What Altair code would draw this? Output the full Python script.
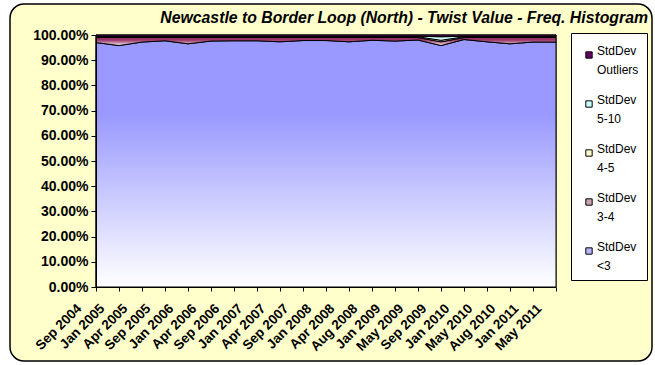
import altair as alt
import pandas as pd

months = ["Sep 2004", "Jan 2005", "Apr 2005", "Sep 2005", "Jan 2006", "Apr 2006",
          "Sep 2006", "Jan 2007", "Apr 2007", "Sep 2007", "Jan 2008", "Apr 2008",
          "Aug 2008", "Jan 2009", "May 2009", "Sep 2009", "Jan 2010", "May 2010",
          "Aug 2010", "Jan 2011", "May 2011"]

# percentages per month
lt3 = [97.0, 95.8, 97.2, 97.7, 96.5, 97.6, 97.7, 97.7, 97.3, 97.8, 97.8, 97.3,
       97.9, 97.6, 98.0, 95.8, 98.2, 97.3, 96.5, 97.2, 97.2]
s34 = [2.0, 3.2, 1.8, 1.3, 2.5, 1.4, 1.3, 1.3, 1.7, 1.2, 1.2, 1.7,
       1.1, 1.4, 1.0, 1.5, 0.8, 1.7, 2.5, 1.8, 1.8]
s45 = [0.3, 0.3, 0.3, 0.3, 0.3, 0.3, 0.3, 0.3, 0.3, 0.3, 0.3, 0.3,
       0.3, 0.3, 0.3, 0.6, 0.3, 0.3, 0.3, 0.3, 0.3]
s510 = [0.2, 0.2, 0.2, 0.2, 0.2, 0.2, 0.2, 0.2, 0.2, 0.2, 0.2, 0.2,
        0.2, 0.2, 0.2, 1.4, 0.2, 0.2, 0.2, 0.2, 0.2]
outl = [0.5, 0.5, 0.5, 0.5, 0.5, 0.5, 0.5, 0.5, 0.5, 0.5, 0.5, 0.5,
        0.5, 0.5, 0.5, 0.7, 0.5, 0.5, 0.5, 0.5, 0.5]

series_names = ["StdDev <3", "StdDev 3-4", "StdDev 4-5", "StdDev 5-10", "StdDev Outliers"]
series_vals = [lt3, s34, s45, s510, outl]
series_top = ["#9999FF", "#993366", "#FFFFCC", "#CCFFFF", "#660066"]
series_bottom = ["#FFFFFF", "#F4E8EE", "#FFFFFF", "#F0FFFF", "#660066"]
legend_order = ["StdDev Outliers", "StdDev 5-10", "StdDev 4-5", "StdDev 3-4", "StdDev <3"]
legend_colors = ["#660066", "#CCFFFF", "#FFFFCC", "#C9A3B4", "#B8B8FF"]
title_text = ["Newcastle to Border Loop (North) - Twist Value - Freq. Histogram"]

rows = []
for k, (name, vals) in enumerate(zip(series_names, series_vals)):
    for m, v in zip(months, vals):
        rows.append({"month": m, "series": name, "order": k, "value": v / 100.0})
df = pd.DataFrame(rows)

FONT = "Liberation Sans"
W, H = 460, 252

base = alt.Chart(df).transform_stack(
    stack="value", groupby=["month"], as_=["lo", "hi"],
    sort=[alt.SortField("order", order="ascending")]
)

xaxis = alt.Axis(labelAngle=-45, labelAlign="right", labelBaseline="middle",
                 labelFont=FONT, labelFontSize=13.5, labelFontWeight="bold",
                 labelColor="black", tickColor="black", domainColor="black",
                 tickSize=4, labelPadding=15, labelOffset=-17, labelOverlap=False,
                 grid=False, zindex=1)
yaxis = alt.Axis(format=".2%", values=[i / 10 for i in range(11)],
                 labelFont=FONT, labelFontSize=14, labelFontWeight="bold",
                 labelColor="black", tickColor="black", domainColor="black",
                 tickSize=5, labelPadding=3, grid=False, zindex=1)
xscale = alt.Scale(type="point", padding=0)
yscale = alt.Scale(domain=[0, 1], nice=False)

def xenc():
    return alt.X("month:O", sort=months, scale=xscale, title=None, axis=xaxis)

def yenc(field):
    return alt.Y(field, scale=yscale, title=None, axis=yaxis)

frame = alt.Chart(pd.DataFrame({"a": [0]})).mark_rect(
    fill="#FFFFCC", stroke="black", strokeWidth=1.5, cornerRadius=14
).encode(x=alt.value(-86), x2=alt.value(556), y=alt.value(-31), y2=alt.value(326))

plotbg = alt.Chart(pd.DataFrame({"a": [0]})).mark_rect(
    fill="white", stroke="black", strokeWidth=1
).encode(x=alt.value(0), x2=alt.value(W), y=alt.value(0), y2=alt.value(H))

title = alt.Chart(pd.DataFrame({"t": title_text})).mark_text(
    font=FONT, fontSize=15.8, fontWeight="bold", fontStyle="italic", color="black",
    align="right", baseline="alphabetic"
).encode(text="t:N", x=alt.value(552), y=alt.value(-12))

layers = [frame, plotbg, title]
for k, name in enumerate(series_names):
    grad = alt.Gradient(
        gradient="linear", x1=0, x2=0, y1=0, y2=1,
        stops=[alt.GradientStop(color=series_top[k], offset=0),
               alt.GradientStop(color=series_top[k], offset=0.3),
               alt.GradientStop(color=series_bottom[k], offset=1)])
    lay = base.transform_filter(alt.datum.series == name).mark_area(
        fill=grad, stroke="black", strokeWidth=1, interpolate="linear"
    ).encode(x=xenc(), y=yenc("lo:Q"), y2="hi:Q")
    layers.append(lay)

legend_layer = base.mark_square(opacity=0).encode(
    x=xenc(),
    y=yenc("hi:Q"),
    color=alt.Color("series:N",
                    scale=alt.Scale(domain=legend_order, range=legend_colors),
                    legend=alt.Legend(orient="none", legendX=475, legendY=-2, title=" ",
                                      titleFontSize=6, titlePadding=2,
                                      symbolType="square", symbolSize=40,
                                      symbolStrokeColor="black", symbolStrokeWidth=1,
                                      symbolOpacity=1, labelFont=FONT, labelFontSize=12,
                                      labelColor="black", labelBaseline="alphabetic",
                                      labelExpr="split(datum.label, ' ')",
                                      strokeColor="black", fillColor="white",
                                      padding=8, rowPadding=18, labelOffset=2,
                                      symbolOffset=4))
)
layers.append(legend_layer)

chart = alt.layer(*layers).properties(
    width=W, height=H,
    padding={"left": 96, "top": 35, "right": 99, "bottom": 78},
    autosize=alt.AutoSizeParams(type="none"),
    background="white",
).configure(style={"guide-label": {"lineHeight": 19}}).configure_view(stroke="transparent")

chart.save("out.html", embed_options={"renderer": "svg", "actions": False})
